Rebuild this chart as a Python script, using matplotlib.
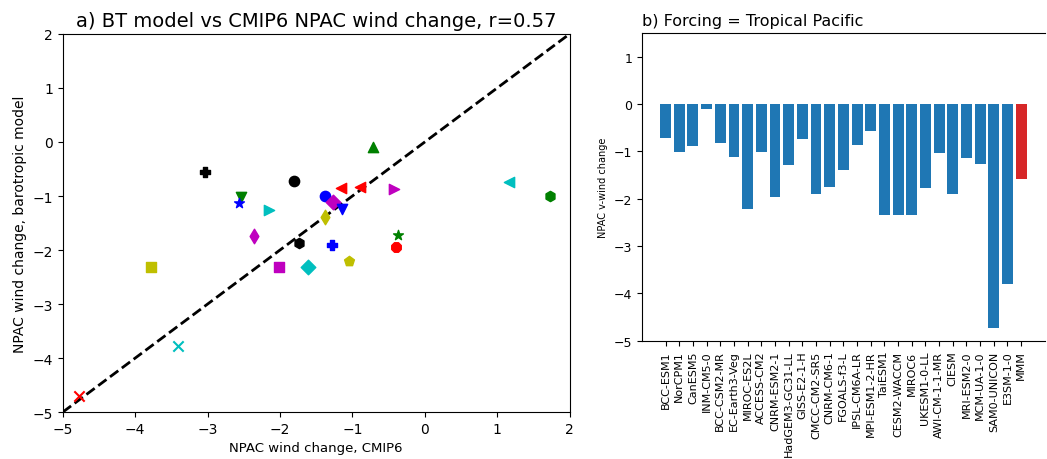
import matplotlib
matplotlib.use("Agg")
import matplotlib.pyplot as plt
import numpy as np

# panel a: CMIP6 vs barotropic model NPAC wind change
cmip6 = [-3.03, -2.54, -2.57, -2.15, -1.80, -2.36, -1.74, -3.78, -2.02, -1.62,
         -0.72, -1.16, -0.90, -0.43, -1.38, -1.27, -1.15, -1.38, -1.28, -0.37,
         -0.40, -1.04, 1.17, 1.73, -3.41, -4.77]
bt_model = [-0.56, -1.02, -1.13, -1.26, -0.72, -1.74, -1.87, -2.31, -2.31, -2.31,
            -0.09, -0.85, -0.83, -0.87, -1.00, -1.11, -1.24, -1.39, -1.91, -1.72,
            -1.94, -2.20, -0.74, -1.00, -3.78, -4.70]
colors = ['k', 'g', 'b', 'c', 'k', 'm', 'k', 'y', 'm', 'c',
          'g', 'r', 'r', 'm', 'b', 'm', 'b', 'y', 'b', 'g',
          'r', 'y', 'c', 'g', 'c', 'r']
markers = ['P', 'v', '*', '>', 'o', 'd', 'h', 's', 's', 'D',
           '^', '<', '<', '>', 'o', 'D', 'v', 'd', 'P', '*',
           '8', 'p', '<', 'h', 'x', 'x']

# panel b: NPAC v-wind change, forcing = tropical Pacific
models = ['BCC-ESM1', 'NorCPM1', 'CanESM5', 'INM-CM5-0', 'BCC-CSM2-MR',
          'EC-Earth3-Veg', 'MIROC-ES2L', 'ACCESS-CM2', 'CNRM-ESM2-1',
          'HadGEM3-GC31-LL', 'GISS-E2-1-H', 'CMCC-CM2-SR5', 'CNRM-CM6-1',
          'FGOALS-f3-L', 'IPSL-CM6A-LR', 'MPI-ESM1-2-HR', 'TaiESM1',
          'CESM2-WACCM', 'MIROC6', 'UKESM1-0-LL', 'AWI-CM-1-1-MR', 'CIESM',
          'MRI-ESM2-0', 'MCM-UA-1-0', 'SAM0-UNICON', 'E3SM-1-0', 'MMM']
vwind = [-0.72, -1.02, -0.88, -0.10, -0.83, -1.12, -2.22, -1.02, -1.97,
         -1.29, -0.74, -1.90, -1.75, -1.40, -0.87, -0.57, -2.35, -2.35,
         -2.35, -1.77, -1.04, -1.89, -1.14, -1.26, -4.73, -3.81, -1.59]

fig = plt.figure(figsize=(10.47, 4.6), dpi=100)

ax1 = fig.add_axes([0.060, 0.102, 0.484, 0.822])
for x, y, c, m in zip(cmip6, bt_model, colors, markers):
    ax1.scatter(x, y, c=c, marker=m, s=55, zorder=3)
ax1.plot([-5, 2], [-5, 2], 'k--', lw=2, zorder=2)
ax1.set_xlim(-5, 2)
ax1.set_ylim(-5, 2)
ax1.set_xlabel('NPAC wind change, CMIP6', fontsize=9.5)
ax1.set_ylabel('NPAC wind change, barotropic model', fontsize=10)
ax1.set_title('a) BT model vs CMIP6 NPAC wind change, r=0.57', fontsize=14)
ax1.tick_params(labelsize=10)

ax2 = fig.add_axes([0.613, 0.257, 0.385, 0.669])
bar_colors = ['tab:blue'] * (len(models) - 1) + ['tab:red']
ax2.bar(np.arange(len(models)), vwind, color=bar_colors)
ax2.set_xticks(np.arange(len(models)))
ax2.set_xticklabels(models, rotation=90, fontsize=8)
ax2.set_ylim(-5, 1.5)
ax2.set_yticks([1, 0, -1, -2, -3, -4, -5])
ax2.tick_params(axis='y', labelsize=9)
ax2.set_ylabel('NPAC v-wind change', fontsize=7)
ax2.set_title('b) Forcing = Tropical Pacific', fontsize=11.5, loc='left')
ax2.spines['right'].set_visible(False)

fig.savefig('out.png', dpi=100)
